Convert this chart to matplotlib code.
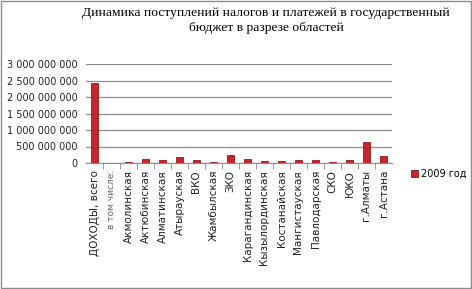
import numpy as np
import matplotlib
matplotlib.use('Agg')
import matplotlib.pyplot as plt
from matplotlib.patches import Rectangle
from matplotlib.ticker import FuncFormatter

categories = ['ДОХОДЫ, всего', 'в том числе:', 'Акмолинская', 'Актюбинская',
              'Алматинская', 'Атырауская', 'ВКО', 'Жамбылская', 'ЗКО',
              'Карагандинская', 'Кызылординская', 'Костанайская',
              'Мангистауская', 'Павлодарская', 'СКО', 'ЮКО', 'г.Алматы',
              'г.Астана']
values_2009 = [2415e6, 0, 30e6, 120e6, 90e6, 180e6, 90e6, 25e6, 245e6,
               120e6, 50e6, 55e6, 90e6, 90e6, 20e6, 95e6, 636e6, 215e6]
series_name = '2009 год'
title = ('Динамика поступлений налогов и платежей в государственный\n'
         'бюджет в разрезе областей')

fig = plt.figure(figsize=(4.72, 2.89), dpi=100)
ax = fig.add_axes([86 / 472, 1 - 163 / 289, 306 / 472, 99 / 289])

x = np.arange(len(categories))
ax.bar(x, values_2009, width=0.45, color='#C8262B', edgecolor='#8E1A1E',
       linewidth=0.6, label=series_name, zorder=3)

ax.set_xlim(-0.5, len(categories) - 0.5)
ax.set_ylim(0, 3e9)
ax.set_yticks(np.arange(0, 3.01e9, 5e8))
ax.yaxis.set_major_formatter(FuncFormatter(
    lambda v, p: f'{int(v):,}'.replace(',', ' ')))
ax.grid(axis='y', color='#8c8c8c', lw=0.9, zorder=0)
for s in ['top', 'right', 'left']:
    ax.spines[s].set_visible(False)
ax.spines['bottom'].set_color('#8c8c8c')
ax.tick_params(axis='y', length=0, labelsize=7, labelcolor='#222222', pad=6)

# category ticks sit on the boundaries between categories
ax.set_xticks(x)
ax.set_xticklabels(categories, rotation=90, fontsize=7.5, color='#222222')
ax.tick_params(axis='x', length=0, pad=5)
ax.set_xticks(np.arange(0.5, len(categories) - 0.5), minor=True)
ax.tick_params(axis='x', which='minor', length=4, color='#8c8c8c')
for lab in ax.get_xticklabels():
    if lab.get_text() == 'в том числе:':
        lab.set_fontsize(6.5)
        lab.set_color('#666666')

fig.text(0.564, 0.975, title, ha='center', va='top', fontsize=9.7,
         family='Liberation Serif', linespacing=1.3)

fig.legend(loc='upper left', bbox_to_anchor=(404 / 472, 1 - 162 / 289),
           frameon=False, fontsize=7, handlelength=0.7, handleheight=0.7,
           handletextpad=0.3, borderpad=0.2)

fig.patches.append(Rectangle((0.002, 0.003), 0.995, 0.994,
                             transform=fig.transFigure, fill=False,
                             edgecolor='#8c8c8c', lw=1))

fig.savefig('out.png', dpi=100)
